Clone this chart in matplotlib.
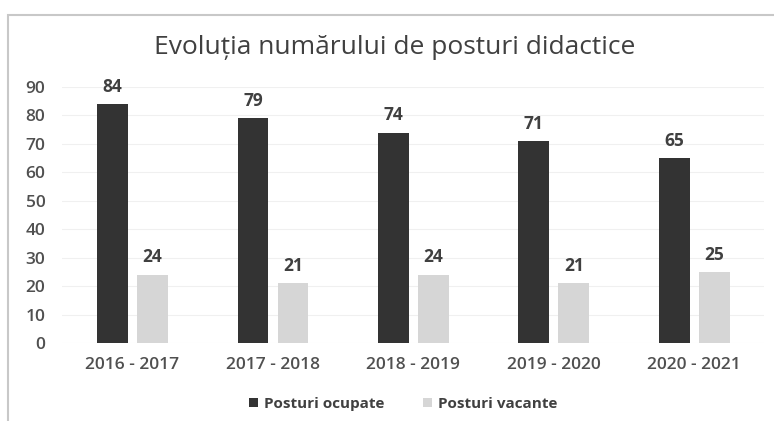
import matplotlib.pyplot as plt
import matplotlib.patches as mpatches
import numpy as np

# data
years = ["2016 - 2017", "2017 - 2018", "2018 - 2019", "2019 - 2020", "2020 - 2021"]
ocupate = [84, 79, 74, 71, 65]
vacante = [24, 21, 24, 21, 25]
yticks = [0, 10, 20, 30, 40, 50, 60, 70, 80, 90]

plt.rcParams['font.family'] = ['Open Sans', 'DejaVu Sans']
text_color = '#404040'

fig = plt.figure(figsize=(7.74, 4.21), dpi=100)

# chart frame (border of the embedded Excel chart)
frame = mpatches.Rectangle((8 / 774, -0.05), 1.0, 1 - 15 / 421 + 0.05, transform=fig.transFigure,
                           fill=False, edgecolor='#c8c8c8', linewidth=1.5)
fig.add_artist(frame)

ax = fig.add_axes([62 / 774, 1 - 343 / 421, (764 - 62) / 774, (343 - 87) / 421])

x = np.arange(len(years))
w = 0.22
b1 = ax.bar(x - 0.14, ocupate, width=w, color='#333333', label='Posturi ocupate', zorder=3)
b2 = ax.bar(x + 0.145, vacante, width=w, color='#d6d6d6', label='Posturi vacante', zorder=3)

for bars in (b1, b2):
    for rect in bars:
        h = rect.get_height()
        ax.annotate(f"{h:.0f}", (rect.get_x() + rect.get_width() / 2, h),
                    xytext=(0, 6), textcoords='offset points', ha='center', va='bottom',
                    fontsize=12.5, fontweight='bold', color=text_color)

ax.set_xlim(-0.5, len(years) - 0.5)
ax.set_ylim(0, 90)
ax.set_yticks(yticks)
ax.set_xticks(x)
ax.set_xticklabels(years)
ax.tick_params(axis='both', length=0, labelsize=12.5, colors='#505050')
ax.tick_params(axis='x', pad=10)
ax.tick_params(axis='y', pad=12)
for lbl in ax.get_xticklabels() + ax.get_yticklabels():
    lbl.set_fontweight('semibold')
ax.grid(axis='y', color='#f0f0f0', linewidth=0.8, zorder=0)
for s in ax.spines.values():
    s.set_visible(False)

fig.text(395 / 774, 1 - 47 / 421, "Evoluția numărului de posturi didactice",
         ha='center', va='center', fontsize=19, color=text_color)

fig.legend(handles=[b1, b2], loc='center', bbox_to_anchor=(403 / 774, 1 - 404 / 421),
           ncol=2, frameon=False, prop={'size': 11, 'weight': 'bold'},
           handlelength=0.6, handleheight=0.6, columnspacing=2.5, handletextpad=0.4,
           labelcolor=text_color)

fig.savefig('out.png', dpi=100)
